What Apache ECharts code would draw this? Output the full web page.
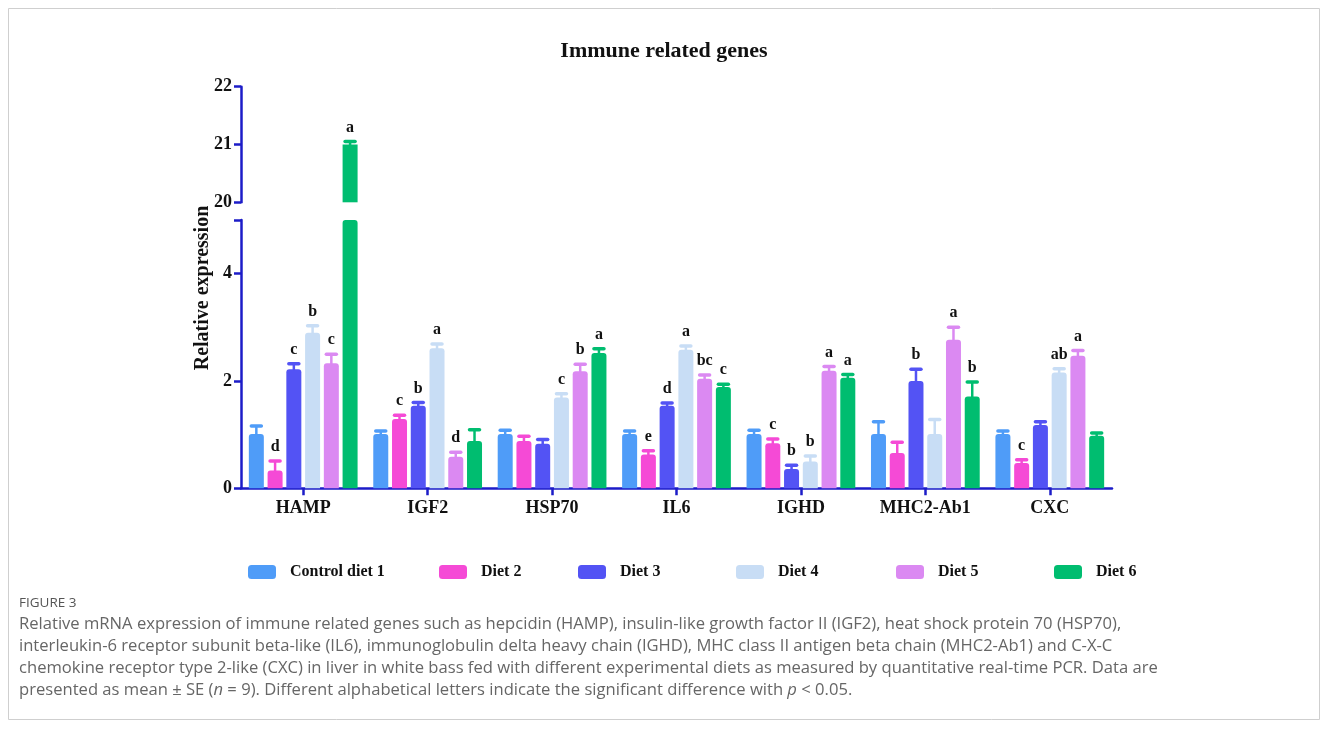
<!DOCTYPE html>
<html><head><meta charset="utf-8">
<script src="https://cdn.jsdelivr.net/npm/echarts@6/dist/echarts.min.js"></script>
<style>html,body{margin:0;padding:0;background:#fff}#c{width:1328px;height:736px}</style>
</head><body><div id="c"></div>
<script>
const genes = ['HAMP','IGF2','HSP70','IL6','IGHD','MHC2-Ab1','CXC'];
const diets = ['Control diet 1','Diet 2','Diet 3','Diet 4','Diet 5','Diet 6'];
const colors = ['#4f9cf8','#f54ad6','#5353f4','#c8ddf5','#db89f2','#00bd70'];

const control1 = [1.01,1.01,1.01,1.01,1.01,1.01,1.01];
const diet2 = [0.33,1.29,0.88,0.63,0.84,0.66,0.47];
const diet3 = [2.22,1.54,0.83,1.54,0.36,2.00,1.18];
const diet4 = [2.90,2.61,1.69,2.58,0.50,1.01,2.16];
const diet5 = [2.33,0.59,2.18,2.04,2.19,2.77,2.47];
const diet6 = [21.0,0.88,2.52,1.89,2.06,1.71,0.98];

const seControl1 = [0.15,0.06,0.07,0.06,0.07,0.23,0.06];
const seDiet2 = [0.18,0.07,0.09,0.07,0.08,0.20,0.06];
const seDiet3 = [0.10,0.06,0.08,0.05,0.07,0.22,0.06];
const seDiet4 = [0.13,0.08,0.07,0.07,0.10,0.27,0.07];
const seDiet5 = [0.17,0.08,0.13,0.07,0.08,0.23,0.10];
const seDiet6 = [0.05,0.21,0.08,0.05,0.06,0.27,0.05];

const letControl1 = ['','','','','','',''];
const letDiet2 = ['d','c','','e','c','','c'];
const letDiet3 = ['c','b','','d','b','b',''];
const letDiet4 = ['b','a','c','a','b','','ab'];
const letDiet5 = ['c','d','b','bc','a','a','a'];
const letDiet6 = ['a','','a','c','a','b',''];

const lowerTicks = [0,2,4];
const upperTicks = [20,21,22];

const values = [control1,diet2,diet3,diet4,diet5,diet6];
const ses = [seControl1,seDiet2,seDiet3,seDiet4,seDiet5,seDiet6];
const lets = [letControl1,letDiet2,letDiet3,letDiet4,letDiet5,letDiet6];

const LOW_MAX = 5, UP_MIN = 20, UP_MAX = 22;
const BAR_W = 15, BAR_STEP = 18.75;
const AX = '#1c1cc8';
const SERIF = '"Liberation Serif", "Times New Roman", serif';

function axisY(min, max, interval, gridIndex, ticks) {
  return {
    type: 'value', gridIndex, min, max, interval,
    axisLine: {show: true, lineStyle: {color: AX, width: 2.5}},
    axisTick: {show: true, length: 7, lineStyle: {color: AX, width: 2.5}},
    splitLine: {show: false},
    axisLabel: {margin: 9, color: '#111', fontFamily: SERIF, fontWeight: 'bold', fontSize: 18,
      formatter: v => ticks.indexOf(v) >= 0 ? String(v) : ''}
  };
}

function errRender(di, upper) {
  return function (params, api) {
    const cat = api.value(0), v = api.value(1), e = api.value(2);
    const letter = lets[di][params.dataIndex];
    if (upper && v < UP_MIN) return;
    if (!upper && v + e > LOW_MAX) return;
    const c = api.coord([cat, v]);
    const t = api.coord([cat, v + e]);
    const x = c[0] - (BAR_STEP * 2.5) + di * BAR_STEP;
    const col = colors[di];
    const children = [
      {type: 'line', shape: {x1: x, y1: c[1] + 1, x2: x, y2: t[1]}, style: {stroke: col, lineWidth: 2.5}},
      {type: 'line', shape: {x1: x - 5, y1: t[1], x2: x + 5, y2: t[1]}, style: {stroke: col, lineWidth: 3.5, lineCap: 'round'}}
    ];
    if (letter) {
      children.push({type: 'text', style: {text: letter, x: x, y: t[1] - 6,
        textAlign: 'center', textVerticalAlign: 'bottom', align: 'center', verticalAlign: 'bottom',
        font: 'bold 16px ' + SERIF, fill: '#111'}});
    }
    return {type: 'group', children};
  };
}

const series = [];
diets.forEach((name, di) => {
  series.push({
    name, type: 'bar', xAxisIndex: 1, yAxisIndex: 1, barWidth: BAR_W, barGap: '25%',
    itemStyle: {color: colors[di], borderRadius: [3,3,0,0]}, clip: true,
    data: values[di].slice()
  });
  series.push({
    name, type: 'bar', xAxisIndex: 0, yAxisIndex: 0, barWidth: BAR_W, barGap: '25%',
    itemStyle: {color: colors[di], borderRadius: [0,0,0,0]}, clip: true,
    data: values[di].map(v => v >= UP_MIN ? v : '-')
  });
});
diets.forEach((name, di) => {
  series.push({
    name: 'err-low-' + di, type: 'custom', xAxisIndex: 1, yAxisIndex: 1, z: 3,
    renderItem: errRender(di, false),
    data: values[di].map((v, i) => [i, v, ses[di][i]])
  });
  series.push({
    name: 'err-up-' + di, type: 'custom', xAxisIndex: 0, yAxisIndex: 0, z: 3,
    renderItem: errRender(di, true),
    data: values[di].map((v, i) => [i, v, ses[di][i]])
  });
});

const legendLefts = [248, 439, 578, 736, 896, 1054];
const legends = diets.map((name, i) => ({
  data: [name], left: legendLefts[i], top: 564, padding: 0, itemWidth: 28, itemHeight: 14, icon: 'roundRect',
  selectedMode: false,
  textStyle: {fontFamily: SERIF, fontWeight: 'bold', fontSize: 16, color: '#111', padding: [0,0,0,9]}
}));

const captionLines = [
  'Relative mRNA expression of immune related genes such as hepcidin (HAMP), insulin-like growth factor II (IGF2), heat shock protein 70 (HSP70),',
  'interleukin-6 receptor subunit beta-like (IL6), immunoglobulin delta heavy chain (IGHD), MHC class II antigen beta chain (MHC2-Ab1) and C-X-C',
  'chemokine receptor type 2-like (CXC) in liver in white bass fed with different experimental diets as measured by quantitative real-time PCR. Data are',
  'presented as mean ± SE ({i|n} = 9). Different alphabetical letters indicate the significant difference with {i|p} < 0.05.'
];
const CAP_FONT = '"Open Sans"';
const CAP_SIZE = 16.6;
const graphics = [
  {type: 'rect', shape: {x: 8.5, y: 8.5, width: 1311, height: 711},
   style: {fill: 'none', stroke: '#cfcfcf', lineWidth: 1}, silent: true},
  {type: 'text', left: 19, top: 596, style: {text: 'FIGURE 3', font: '13.5px ' + CAP_FONT, fill: '#555'}},
  {type: 'text', rotation: Math.PI / 2, x: 203, y: 288,
   style: {text: 'Relative expression', font: 'bold 20px ' + SERIF, fill: '#111',
     textAlign: 'center', textVerticalAlign: 'middle', align: 'center', verticalAlign: 'middle'}}
];
captionLines.forEach((t, i) => {
  graphics.push({type: 'text', left: 19, top: 616 + i * 22,
    style: {text: t, fontFamily: CAP_FONT, fontSize: CAP_SIZE, fill: '#666',
      rich: {i: {fontStyle: 'italic', fontFamily: CAP_FONT, fontSize: CAP_SIZE, color: '#666'}}}});
});

const option = {
  animation: false,
  backgroundColor: '#fff',
  title: {text: 'Immune related genes', left: 'center', top: 35,
    textStyle: {fontFamily: SERIF, fontWeight: 'bold', fontSize: 22, color: '#111'}},
  grid: [
    {left: 241, right: 216, top: 86.7, height: 115.6},
    {left: 241, right: 216, top: 220, height: 268.3}
  ],
  xAxis: [
    {type: 'category', gridIndex: 0, data: genes, show: false},
    {type: 'category', gridIndex: 1, data: genes,
     axisLine: {show: true, lineStyle: {color: AX, width: 2.5}},
     axisTick: {show: true, alignWithLabel: true, length: 7, lineStyle: {color: AX, width: 2.5}},
     axisLabel: {margin: 11, color: '#111', fontFamily: SERIF, fontWeight: 'bold', fontSize: 18}}
  ],
  yAxis: [
    axisY(UP_MIN, UP_MAX, 1, 0, upperTicks),
    axisY(0, LOW_MAX, 2, 1, lowerTicks)
  ],
  legend: legends,
  series,
  graphic: graphics
};
echarts.init(document.getElementById('c'), null, {renderer: 'canvas'}).setOption(option);
</script>
</body></html>
